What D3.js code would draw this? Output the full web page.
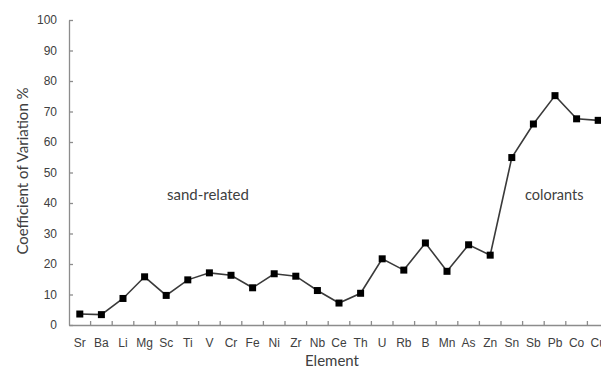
<!DOCTYPE html>
<html>
<head>
<meta charset="utf-8">
<script src="https://cdn.jsdelivr.net/npm/d3@7"></script>
<style>
  body { margin: 0; background: #fff; }
  svg { display: block; font-family: "Lato", "Open Sans", sans-serif; }
</style>
</head>
<body>
<svg width="601" height="368"></svg>
<script>
var elements = ['Sr', 'Ba', 'Li', 'Mg', 'Sc', 'Ti', 'V', 'Cr', 'Fe', 'Ni', 'Zr', 'Nb', 'Ce',
    'Th', 'U', 'Rb', 'B', 'Mn', 'As', 'Zn', 'Sn', 'Sb', 'Pb', 'Co', 'Cu'];
var cv = [3.6, 3.4, 8.7, 15.8, 9.7, 14.8, 17.1, 16.3, 12.2, 16.8, 16.0, 11.3, 7.2,
    10.4, 21.7, 18.0, 26.9, 17.6, 26.3, 22.9, 54.9, 65.9, 75.2, 67.6, 67.1];
var yTicks = [0, 10, 20, 30, 40, 50, 60, 70, 80, 90, 100];

var svg = d3.select('svg');
var textColor = '#404040';
var axisColor = '#8c8c8c';

var x = d3.scaleBand()
    .domain(elements)
    .range([69, 609]);

var y = d3.scaleLinear()
    .domain([0, 100])
    .range([325, 20]);

// y axis, ticks pointing inward
var yAxis = svg.append('g')
    .attr('transform', 'translate(69,0)')
    .call(d3.axisLeft(y).tickValues(yTicks).tickSizeInner(-4).tickSizeOuter(0).tickPadding(12));
yAxis.select('.domain').attr('stroke', axisColor).attr('stroke-width', 1.3);
yAxis.selectAll('.tick line').attr('stroke', axisColor).attr('stroke-width', 1.3);
yAxis.selectAll('.tick text').attr('fill', textColor).style('font-size', '12px');

// x axis, ticks between categories pointing up
var xAxis = svg.append('g')
    .attr('transform', 'translate(0,325)')
    .call(d3.axisBottom(x).tickSize(0).tickPadding(13));
xAxis.select('.domain').attr('stroke', axisColor).attr('stroke-width', 1.3);
xAxis.selectAll('.tick text').attr('fill', textColor).style('font-size', '12px');
xAxis.selectAll('.sep')
    .data(elements.slice(1))
    .enter()
    .append('line')
    .attr('class', 'sep')
    .attr('x1', function (d) { return x(d); })
    .attr('x2', function (d) { return x(d); })
    .attr('y1', 0)
    .attr('y2', -4)
    .attr('stroke', axisColor)
    .attr('stroke-width', 1.3);

var line = d3.line()
    .x(function (d, i) { return x(elements[i]) + x.bandwidth() / 2; })
    .y(function (d) { return y(d); });

svg.append('path')
    .datum(cv)
    .attr('d', line)
    .attr('fill', 'none')
    .attr('stroke', '#3a3a3a')
    .attr('stroke-width', 1.6);

svg.selectAll('.pt')
    .data(cv)
    .enter()
    .append('rect')
    .attr('class', 'pt')
    .attr('x', function (d, i) { return x(elements[i]) + x.bandwidth() / 2 - 3.5; })
    .attr('y', function (d) { return y(d) - 3.5; })
    .attr('width', 7)
    .attr('height', 7)
    .attr('fill', '#000');

svg.append('text')
    .attr('transform', 'translate(28,171) rotate(-90)')
    .attr('text-anchor', 'middle')
    .attr('fill', textColor)
    .style('font-size', '15px')
    .text('Coefficient of Variation %');

svg.append('text')
    .attr('x', 332)
    .attr('y', 366)
    .attr('text-anchor', 'middle')
    .attr('fill', textColor)
    .style('font-size', '15px')
    .text('Element');

svg.append('text')
    .attr('x', 167)
    .attr('y', 200)
    .attr('fill', textColor)
    .style('font-size', '15px')
    .text('sand-related');

svg.append('text')
    .attr('x', 525)
    .attr('y', 200)
    .attr('fill', textColor)
    .style('font-size', '14.5px')
    .text('colorants');
</script>
</body>
</html>
